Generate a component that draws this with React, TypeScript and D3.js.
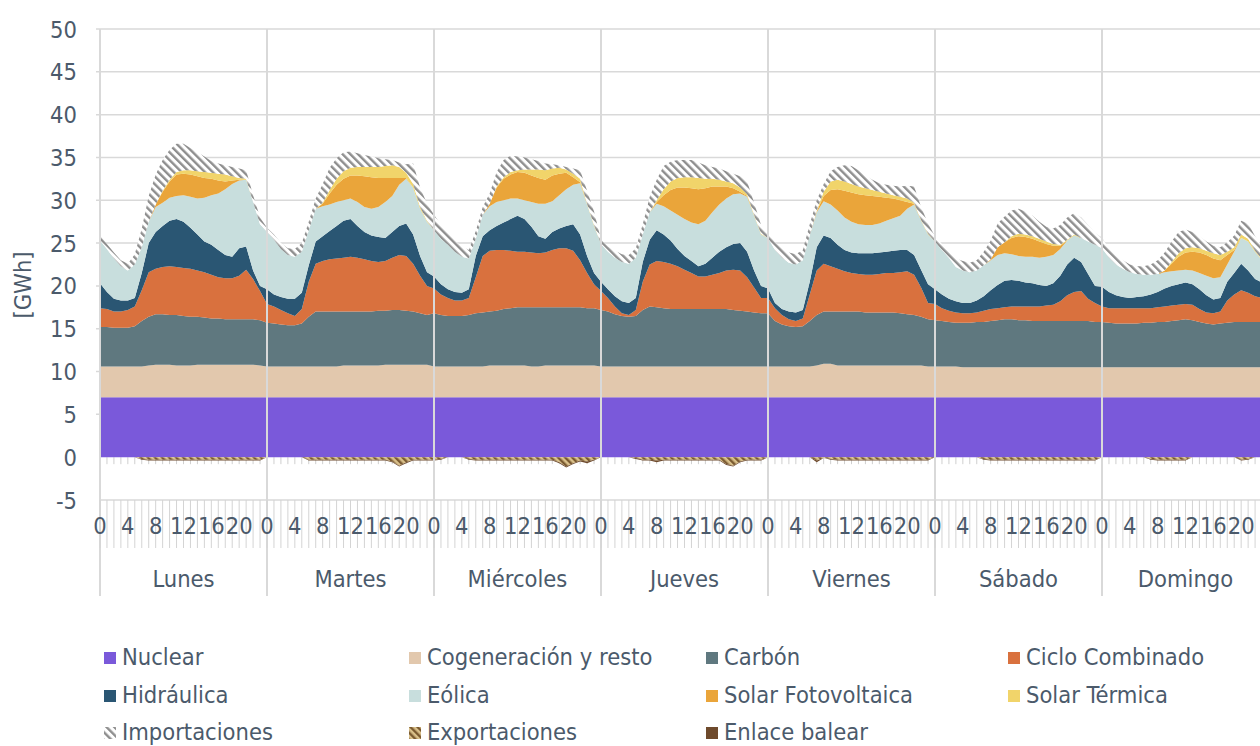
import React from 'react';
import * as d3 from 'd3';

// hourly generation, one row of 24 values per day (GWh)
const days = ['Lunes', 'Martes', 'Miércoles', 'Jueves', 'Viernes', 'Sábado', 'Domingo'];
const hourLabels = [0, 4, 8, 12, 16, 20];
const yTicks = [-5, 0, 5, 10, 15, 20, 25, 30, 35, 40, 45, 50];

const nuclear = [
  [7.0,7.0,7.0,7.0,7.0,7.0,7.0,7.0,7.0,7.0,7.0,7.0,7.0,7.0,7.0,7.0,7.0,7.0,7.0,7.0,7.0,7.0,7.0,7.0],
  [7.0,7.0,7.0,7.0,7.0,7.0,7.0,7.0,7.0,7.0,7.0,7.0,7.0,7.0,7.0,7.0,7.0,7.0,7.0,7.0,7.0,7.0,7.0,7.0],
  [7.0,7.0,7.0,7.0,7.0,7.0,7.0,7.0,7.0,7.0,7.0,7.0,7.0,7.0,7.0,7.0,7.0,7.0,7.0,7.0,7.0,7.0,7.0,7.0],
  [7.0,7.0,7.0,7.0,7.0,7.0,7.0,7.0,7.0,7.0,7.0,7.0,7.0,7.0,7.0,7.0,7.0,7.0,7.0,7.0,7.0,7.0,7.0,7.0],
  [7.0,7.0,7.0,7.0,7.0,7.0,7.0,7.0,7.0,7.0,7.0,7.0,7.0,7.0,7.0,7.0,7.0,7.0,7.0,7.0,7.0,7.0,7.0,7.0],
  [7.0,7.0,7.0,7.0,7.0,7.0,7.0,7.0,7.0,7.0,7.0,7.0,7.0,7.0,7.0,7.0,7.0,7.0,7.0,7.0,7.0,7.0,7.0,7.0],
  [7.0,7.0,7.0,7.0,7.0,7.0,7.0,7.0,7.0,7.0,7.0,7.0,7.0,7.0,7.0,7.0,7.0,7.0,7.0,7.0,7.0,7.0,7.0,7.0],
];
const cogeneracion = [
  [3.6,3.6,3.6,3.6,3.6,3.6,3.6,3.7,3.8,3.8,3.8,3.7,3.7,3.7,3.8,3.8,3.8,3.8,3.8,3.8,3.8,3.8,3.8,3.7],
  [3.6,3.6,3.6,3.6,3.6,3.6,3.6,3.6,3.6,3.6,3.6,3.7,3.7,3.7,3.7,3.7,3.7,3.8,3.8,3.8,3.8,3.8,3.8,3.8],
  [3.6,3.6,3.6,3.6,3.6,3.6,3.6,3.6,3.7,3.7,3.7,3.7,3.7,3.7,3.6,3.6,3.7,3.7,3.7,3.7,3.7,3.7,3.7,3.7],
  [3.6,3.6,3.6,3.6,3.6,3.6,3.6,3.6,3.6,3.6,3.6,3.6,3.6,3.6,3.6,3.6,3.6,3.6,3.6,3.6,3.6,3.6,3.6,3.6],
  [3.6,3.6,3.6,3.6,3.6,3.6,3.6,3.7,3.9,3.9,3.7,3.7,3.7,3.7,3.7,3.7,3.7,3.7,3.7,3.7,3.7,3.7,3.7,3.6],
  [3.6,3.6,3.6,3.6,3.5,3.5,3.5,3.5,3.5,3.5,3.5,3.5,3.5,3.5,3.5,3.5,3.5,3.5,3.5,3.5,3.5,3.5,3.5,3.5],
  [3.5,3.5,3.5,3.5,3.5,3.5,3.5,3.5,3.5,3.5,3.5,3.5,3.5,3.5,3.5,3.5,3.5,3.5,3.5,3.5,3.5,3.5,3.5,3.5],
];
const carbon = [
  [4.6,4.6,4.5,4.5,4.5,4.7,5.3,5.7,5.9,5.9,5.8,5.9,5.8,5.7,5.6,5.5,5.4,5.4,5.3,5.3,5.3,5.3,5.3,5.3],
  [5.1,5.0,4.9,4.8,4.8,5.0,5.8,6.4,6.4,6.4,6.4,6.3,6.3,6.3,6.3,6.3,6.4,6.3,6.4,6.4,6.3,6.2,6.0,5.8],
  [6.2,6.0,5.9,5.9,5.9,6.0,6.2,6.3,6.3,6.4,6.6,6.7,6.8,6.8,6.9,6.9,6.8,6.8,6.8,6.8,6.8,6.8,6.7,6.7],
  [6.6,6.4,6.1,5.9,5.8,5.9,6.6,7.0,6.9,6.8,6.7,6.7,6.7,6.7,6.7,6.7,6.7,6.7,6.7,6.6,6.5,6.4,6.3,6.2],
  [6.2,5.3,4.9,4.7,4.6,4.7,5.3,5.9,6.1,6.1,6.3,6.3,6.3,6.3,6.2,6.2,6.2,6.2,6.2,6.1,6.0,5.9,5.7,5.5],
  [5.4,5.3,5.2,5.1,5.2,5.2,5.3,5.3,5.4,5.5,5.6,5.6,5.5,5.5,5.4,5.4,5.4,5.4,5.4,5.4,5.4,5.4,5.4,5.3],
  [5.3,5.2,5.1,5.1,5.1,5.1,5.2,5.2,5.3,5.3,5.4,5.5,5.6,5.5,5.3,5.1,5.0,5.1,5.2,5.3,5.3,5.3,5.3,5.3],
];
const cicloCombinado = [
  [2.2,2.1,1.9,1.9,2.1,2.3,3.6,5.2,5.3,5.5,5.7,5.6,5.6,5.6,5.4,5.3,5.1,4.8,4.8,4.8,5.1,5.8,4.7,3.4],
  [2.2,2.0,1.7,1.4,1.1,1.7,4.1,5.6,5.9,6.1,6.2,6.3,6.4,6.3,6.1,5.9,5.7,5.8,6.1,6.4,6.4,5.6,4.4,3.4],
  [2.9,2.4,2.1,1.8,1.8,2.0,4.2,6.6,7.1,7.1,6.9,6.7,6.5,6.5,6.4,6.3,6.4,6.7,6.9,6.9,6.6,5.5,4.1,2.8],
  [2.2,1.6,0.9,0.3,0.2,0.7,3.3,4.9,5.4,5.4,5.3,5.0,4.6,4.2,3.8,3.8,4.0,4.2,4.5,4.7,4.7,4.0,2.9,1.8],
  [1.8,1.5,1.1,0.8,0.7,0.9,3.1,5.2,5.6,5.3,5.0,4.7,4.5,4.4,4.4,4.4,4.5,4.6,4.6,4.8,5.0,4.7,3.4,1.9],
  [1.9,1.5,1.3,1.2,1.1,1.1,1.1,1.3,1.4,1.4,1.4,1.5,1.6,1.6,1.7,1.7,1.8,1.9,2.3,3.0,3.4,3.5,2.6,2.2],
  [1.8,1.7,1.8,1.8,1.8,1.8,1.7,1.7,1.7,1.8,1.8,1.8,1.8,1.8,1.5,1.3,1.3,1.4,2.6,3.2,3.7,3.4,3.0,2.8],
];
const hidraulica = [
  [2.9,2.0,1.5,1.3,1.1,1.0,2.0,3.4,4.3,4.8,5.3,5.6,5.4,4.8,4.2,3.6,3.5,3.2,2.7,2.5,3.2,2.7,1.0,0.6],
  [1.7,1.4,1.5,1.7,2.0,1.9,1.9,2.6,2.9,3.3,3.8,4.3,4.4,3.7,3.2,3.0,2.9,2.7,3.0,3.4,3.8,3.4,2.3,1.6],
  [1.4,1.2,1.0,1.0,0.9,1.0,2.5,2.3,2.4,2.8,3.2,3.7,4.2,3.8,3.0,2.0,1.6,2.1,2.3,2.6,3.1,3.0,2.0,1.3],
  [1.1,1.0,1.2,1.4,1.4,1.4,2.3,2.9,3.6,3.2,2.7,2.0,1.6,1.4,1.2,1.5,2.0,2.5,2.7,3.0,3.2,3.0,2.0,1.4],
  [1.1,0.6,0.7,0.9,1.0,1.0,1.5,2.7,3.3,3.3,2.8,2.5,2.4,2.4,2.5,2.5,2.5,2.5,2.6,2.6,2.5,2.3,2.1,2.2],
  [1.7,1.6,1.4,1.3,1.2,1.2,1.4,1.7,2.2,2.7,3.1,3.1,3.0,2.8,2.7,2.5,2.3,2.5,3.0,3.6,4.0,3.4,2.9,2.0],
  [2.3,1.9,1.5,1.3,1.2,1.3,1.4,1.6,1.8,2.1,2.3,2.4,2.5,2.4,2.3,2.0,1.6,1.6,2.2,2.5,3.1,2.6,2.0,1.8],
];
const eolica = [
  [5.0,5.0,4.7,4.0,3.5,3.9,3.0,2.5,2.9,2.7,2.7,2.7,3.1,3.6,4.2,5.1,5.8,6.6,7.7,8.5,7.9,7.8,8.0,7.2],
  [6.7,6.4,5.6,5.1,4.9,4.8,4.1,3.8,3.5,3.1,2.8,2.4,2.4,2.8,2.9,3.1,3.5,4.2,4.2,4.8,5.2,5.5,5.5,5.9],
  [5.4,5.3,5.2,4.7,4.2,3.6,2.0,2.5,2.8,2.8,2.6,2.4,2.0,2.2,2.9,3.8,4.1,3.6,3.9,4.3,4.6,6.0,6.0,5.5],
  [4.4,4.4,4.5,4.6,4.6,4.7,3.2,3.2,3.1,3.3,3.5,4.0,4.3,4.5,4.9,5.0,5.3,5.5,5.7,5.8,5.8,6.4,6.4,6.0],
  [5.9,6.2,6.0,5.7,5.6,5.8,5.4,4.1,4.0,3.9,4.0,3.8,3.6,3.4,3.3,3.3,3.4,3.6,3.8,4.0,4.8,5.9,5.7,5.8],
  [5.6,5.2,4.8,4.0,3.8,3.6,3.5,3.6,3.5,3.5,3.2,3.0,2.9,3.0,3.1,3.2,3.4,3.3,3.1,2.8,2.6,2.8,3.8,4.8],
  [4.5,4.0,3.6,3.3,3.0,2.7,2.5,2.3,2.1,1.9,1.7,1.6,1.5,1.6,1.9,2.3,2.5,2.4,2.0,2.5,3.0,3.4,3.2,2.6],
];
const solarFotovoltaica = [
  [0,0,0,0,0,0,0,0,0.3,1.3,1.9,2.5,2.5,2.6,2.6,2.3,1.9,1.5,0.9,0.4,0.1,0,0,0],
  [0,0,0,0,0,0,0,0,0.3,1.3,2.0,2.5,2.7,3.1,3.6,3.7,3.4,2.8,2.1,0.8,0.1,0,0,0],
  [0,0,0,0,0,0,0,0,0.3,1.7,2.5,2.8,3.1,3.2,3.1,3.0,2.8,3.0,2.5,1.9,0.9,0.1,0,0],
  [0,0,0,0,0,0,0,0,0.2,1.3,2.4,3.2,3.7,4.0,4.1,3.8,3.0,2.1,1.4,0.7,0.2,0.1,0,0],
  [0,0,0,0,0,0,0,0.1,0.6,1.7,2.5,3.1,3.4,3.5,3.5,3.4,3.1,2.7,2.3,1.8,0.8,0.1,0,0],
  [0,0,0,0,0,0,0,0,0.1,0.9,1.3,1.9,2.3,2.3,2.1,1.9,1.5,1.1,0.4,0,0,0,0,0],
  [0,0,0,0,0,0,0,0,0,0.2,0.9,1.6,2.0,2.2,2.4,2.4,2.3,2.0,1.1,0.2,0,0,0,0],
];
const solarTermica = [
  [0,0,0,0,0,0,0,0,0,0.1,0.2,0.3,0.4,0.5,0.6,0.7,0.7,0.8,0.8,0.5,0.2,0.1,0,0],
  [0,0,0,0,0,0,0,0,0.1,0.4,0.7,0.9,0.9,1.0,1.1,1.2,1.3,1.4,1.5,1.3,0.6,0.4,0.2,0.1],
  [0,0,0,0,0,0,0,0,0,0.1,0.2,0.3,0.2,0.4,0.7,1.0,1.1,0.8,0.7,0.4,0.4,0.4,0.1,0.1],
  [0,0,0,0,0,0,0,0,0.2,0.7,1.0,1.1,1.2,1.3,1.3,1.1,0.9,0.8,0.6,0.6,0.5,0.2,0.1,0.1],
  [0,0,0,0,0,0,0,0.1,0.5,1.0,1.1,1.1,1.0,0.9,0.8,0.7,0.6,0.5,0.4,0.4,0.4,0.1,0.1,0.1],
  [0,0,0,0,0,0,0,0,0,0,0,0.2,0.3,0.3,0.3,0.3,0.3,0.2,0.1,0.1,0.1,0,0,0],
  [0,0,0,0,0,0,0,0,0,0,0.2,0.4,0.5,0.5,0.5,0.5,0.6,0.6,0.4,0.3,0.4,0.3,0.1,0.1],
];
const importaciones = [
  [0.6,0.6,0.7,0.7,0.8,1.2,2.2,3.0,3.5,3.6,3.5,3.3,3.1,2.6,2.2,1.8,1.4,1.2,1.1,1.1,1.1,1.0,0.8,0.8],
  [0.5,0.6,0.7,0.8,0.9,1.0,1.0,1.2,2.2,2.6,2.4,2.2,1.9,1.6,1.4,1.2,1.0,0.8,0.6,0.5,1.0,2.4,2.3,2.0],
  [1.8,1.6,1.4,1.3,1.2,1.0,0.9,0.9,1.2,1.7,2.0,1.9,1.6,1.4,1.2,1.0,0.8,0.5,0.3,0.3,0.6,1.0,1.5,1.6],
  [0.5,0.6,0.8,0.9,1.0,1.1,1.2,1.8,2.4,2.7,2.3,2.1,2.0,2.0,1.8,1.6,1.4,1.3,1.2,1.1,1.3,1.5,1.4,1.0],
  [0.6,0.9,1.1,1.2,1.2,1.2,1.3,1.2,0.9,1.2,1.5,1.9,2.1,1.9,1.5,1.2,1.0,1.0,1.1,1.2,1.5,1.9,1.5,1.2],
  [0.6,0.7,0.9,1.0,1.1,1.1,1.2,1.6,2.2,2.8,3.0,3.0,2.9,2.7,2.4,2.0,1.7,1.8,2.3,2.6,2.5,2.4,1.9,1.4],
  [1.2,1.1,1.0,1.0,0.9,0.9,1.0,1.2,1.6,2.1,2.4,2.5,2.2,1.8,1.4,1.1,0.9,0.9,1.1,1.4,1.6,1.8,1.7,1.5],
];
const exportaciones = [
  [0,0,0,0,0,0,-0.2,-0.3,-0.3,-0.3,-0.3,-0.3,-0.3,-0.3,-0.3,-0.3,-0.3,-0.3,-0.3,-0.3,-0.3,-0.3,-0.3,-0.3],
  [0,0,0,0,0,0,-0.3,-0.3,-0.3,-0.3,-0.3,-0.3,-0.3,-0.3,-0.3,-0.3,-0.3,-0.3,-0.5,-1.0,-0.6,-0.3,-0.3,-0.3],
  [-0.3,-0.2,0,0,0,-0.2,-0.3,-0.3,-0.3,-0.3,-0.3,-0.3,-0.3,-0.3,-0.3,-0.3,-0.3,-0.3,-0.6,-1.1,-0.7,-0.4,-0.5,-0.3],
  [0,0,0,0,0,-0.1,-0.3,-0.3,-0.4,-0.3,-0.3,-0.3,-0.3,-0.3,-0.3,-0.3,-0.3,-0.3,-0.8,-1.0,-0.5,-0.3,-0.3,-0.3],
  [0,0,0,0,0,0,0,-0.4,-0.1,-0.2,-0.3,-0.3,-0.3,-0.3,-0.3,-0.3,-0.3,-0.3,-0.3,-0.3,-0.3,-0.3,-0.3,-0.3],
  [0,0,0,0,0,0,0,-0.2,-0.3,-0.3,-0.3,-0.3,-0.3,-0.3,-0.3,-0.3,-0.3,-0.3,-0.3,-0.3,-0.3,-0.3,-0.3,-0.3],
  [0,0,0,0,0,0,0,-0.2,-0.3,-0.3,-0.3,-0.3,-0.3,0,0,0,0,0,0,0,-0.3,-0.2,0,0],
];
const enlaceBalear = [
  [0,0,0,0,0,0,-0.1,-0.1,-0.1,-0.1,-0.1,-0.1,-0.1,-0.1,-0.1,-0.1,-0.1,-0.1,-0.1,-0.1,-0.1,-0.1,-0.1,-0.1],
  [0,0,0,0,0,0,-0.1,-0.1,-0.1,-0.1,-0.1,-0.1,-0.1,-0.1,-0.1,-0.1,-0.1,-0.1,-0.1,-0.1,-0.1,-0.1,-0.1,-0.1],
  [-0.1,-0.1,0,0,0,-0.1,-0.1,-0.1,-0.1,-0.1,-0.1,-0.1,-0.1,-0.1,-0.1,-0.1,-0.1,-0.1,-0.1,-0.1,-0.1,-0.1,-0.2,-0.1],
  [0,0,0,0,0,-0.1,-0.1,-0.1,-0.2,-0.1,-0.1,-0.1,-0.1,-0.1,-0.1,-0.1,-0.1,-0.1,-0.1,-0.1,-0.1,-0.1,-0.1,-0.1],
  [0,0,0,0,0,0,0,-0.2,0,-0.1,-0.1,-0.1,-0.1,-0.1,-0.1,-0.1,-0.1,-0.1,-0.1,-0.1,-0.1,-0.1,-0.1,-0.1],
  [0,0,0,0,0,0,0,-0.1,-0.1,-0.1,-0.1,-0.1,-0.1,-0.1,-0.1,-0.1,-0.1,-0.1,-0.1,-0.1,-0.1,-0.1,-0.1,-0.1],
  [0,0,0,0,0,0,0,-0.1,-0.1,-0.1,-0.1,-0.1,-0.1,0,0,0,0,0,0,0,-0.1,-0.1,0,0],
];

const series = [
  { key: 'nuclear', name: 'Nuclear', values: nuclear, fill: '#7a59da' },
  { key: 'cogeneracion', name: 'Cogeneración y resto', values: cogeneracion, fill: '#e2c8ad' },
  { key: 'carbon', name: 'Carbón', values: carbon, fill: '#5f787f' },
  { key: 'ciclo', name: 'Ciclo Combinado', values: cicloCombinado, fill: '#d9713e' },
  { key: 'hidraulica', name: 'Hidráulica', values: hidraulica, fill: '#2a5673' },
  { key: 'eolica', name: 'Eólica', values: eolica, fill: '#c8dedd' },
  { key: 'fv', name: 'Solar Fotovoltaica', values: solarFotovoltaica, fill: '#eaa53a' },
  { key: 'termica', name: 'Solar Térmica', values: solarTermica, fill: '#f1d46a' },
  { key: 'imp', name: 'Importaciones', values: importaciones, fill: 'url(#hatchImp)' },
  { key: 'exp', name: 'Exportaciones', values: exportaciones, fill: 'url(#hatchExp)' },
  { key: 'balear', name: 'Enlace balear', values: enlaceBalear, fill: '#6e4a2c' },
];
const posKeys = ['nuclear', 'cogeneracion', 'carbon', 'ciclo', 'hidraulica', 'eolica', 'fv', 'termica', 'imp'];
const negKeys = ['exp', 'balear'];

const W = 1260;
const H = 746;
const FONT = "'DejaVu Sans Condensed', 'DejaVu Sans', sans-serif";
const TXT = '#4b5a6b';
const GRID = '#d9d9d9';
const FS = 23.5;

export default function App() {
  const nHours = days.length * 24;
  const x = d3.scaleLinear().domain([0, nHours]).range([100, 1269]);
  const y = d3.scaleLinear().domain([-5, 50]).range([500, 29]);

  const rows = d3.range(nHours).map(i => {
    const r: Record<string, number> = {};
    series.forEach(s => { r[s.key] = s.values.flat()[i]; });
    return r;
  });
  const pos = d3.stack<Record<string, number>>().keys(posKeys)(rows);
  const neg = d3.stack<Record<string, number>>().keys(negKeys)(rows);

  const area = d3.area<d3.SeriesPoint<Record<string, number>>>()
    .x((_, i) => x(i))
    .y0(d => y(d[0]))
    .y1(d => y(d[1]));

  const byKey = (k: string) => series.find(s => s.key === k)!;
  const hours = d3.range(nHours + 1);

  const legendCols = [104, 409, 706, 1008];
  const legendRows = [658, 696, 733];
  const legendOrder = [
    ['nuclear', 'cogeneracion', 'carbon', 'ciclo'],
    ['hidraulica', 'eolica', 'fv', 'termica'],
    ['imp', 'exp', 'balear'],
  ];

  return (
    <svg width={W} height={H} style={{ position: 'absolute', left: 0, top: 0, background: '#fff' }}
      fontFamily={FONT} fontStretch="condensed">
      <defs>
        <pattern id="hatchImp" patternUnits="userSpaceOnUse" width="5.5" height="5.5" patternTransform="rotate(-45)">
          <rect width="5.5" height="5.5" fill="#fff" />
          <rect width="2.4" height="5.5" fill="#8e8e8e" />
        </pattern>
        <pattern id="hatchExp" patternUnits="userSpaceOnUse" width="5" height="5" patternTransform="rotate(-45)">
          <rect width="5" height="5" fill="#d9c08a" />
          <rect width="2.4" height="5" fill="#7a5a30" />
        </pattern>
      </defs>

      {/* horizontal gridlines */}
      {yTicks.filter(v => v > 0).map(v => (
        <line key={v} x1={96} x2={W} y1={y(v)} y2={y(v)} stroke={GRID} strokeWidth={1.5} />
      ))}
      <line x1={100} x2={100} y1={y(50)} y2={y(0)} stroke={GRID} strokeWidth={1.5} />

      {/* hour ticks under the zero line */}
      {hours.map(i => (
        <line key={'t0' + i} x1={x(i)} x2={x(i)} y1={y(0)} y2={y(0) + 7} stroke="#cfcfcf" strokeWidth={1} />
      ))}

      {pos.map(s => (
        <path key={s.key} d={area(s) || ''} fill={byKey(s.key).fill} />
      ))}
      {neg.map(s => (
        <path key={s.key} d={area(s) || ''} fill={byKey(s.key).fill} />
      ))}

      {/* day separators */}
      {d3.range(days.length + 1).map(k => (
        <line key={'d' + k} x1={x(k * 24)} x2={x(k * 24)} y1={y(50)} y2={596}
          stroke={GRID} strokeWidth={2} />
      ))}

      {/* category axis box */}
      <line x1={100} x2={W} y1={y(-5)} y2={y(-5)} stroke={GRID} strokeWidth={1.5} />
      {hours.map(i => (
        <line key={'t1' + i} x1={x(i)} x2={x(i)} y1={y(-5)} y2={548} stroke="#d4d4d4" strokeWidth={1} />
      ))}
      {days.map((d, k) => (
        <g key={d}>
          {hourLabels.map(h => (
            <text key={h} x={x(k * 24 + h)} y={534} textAnchor="middle" fontSize={FS} fill={TXT}>{h}</text>
          ))}
          <text x={x(k * 24 + 12)} y={587} textAnchor="middle" fontSize={FS} fill={TXT}>{d}</text>
        </g>
      ))}

      {/* y axis */}
      {yTicks.map(v => (
        <text key={v} x={77} y={y(v) + 8.5} textAnchor="end" fontSize={FS} fill={TXT}>{v}</text>
      ))}
      <text transform="translate(31,285) rotate(-90)" textAnchor="middle" fontSize={FS} fill={TXT}>[GWh]</text>

      {/* legend */}
      {legendOrder.map((row, r) => row.map((k, c) => {
        const s = byKey(k);
        const lx = legendCols[c];
        const ly = legendRows[r];
        return (
          <g key={k}>
            <rect x={lx} y={ly - 6} width={12} height={12} fill={s.fill} />
            <text x={lx + 18} y={ly + 7} fontSize={FS} fill={TXT}>{s.name}</text>
          </g>
        );
      }))}
    </svg>
  );
}
